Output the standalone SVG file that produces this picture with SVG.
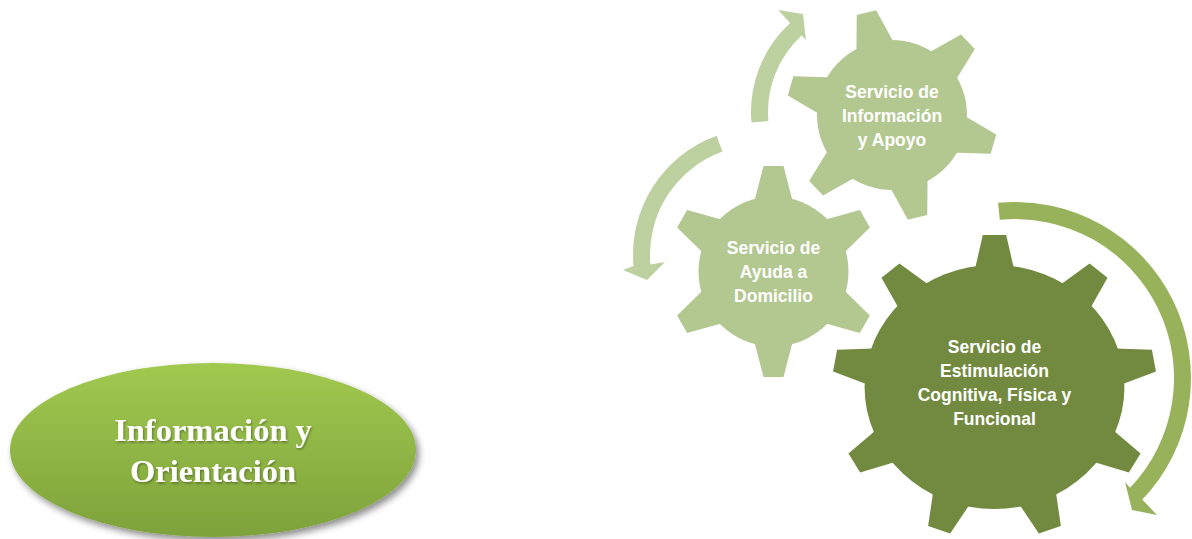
<svg xmlns="http://www.w3.org/2000/svg" xmlns:xlink="http://www.w3.org/1999/xlink" width="1192" height="539" viewBox="0 0 1192 539">
  <style>
    .gl { fill: #b3c790; }
    .gd { fill: #728a3f; }
    .al { fill: #bdd09f; }
    .ad { fill: #97b25a; }
    .gt { font-family: "Liberation Sans", Arial, sans-serif; font-weight: bold; font-size: 17.5px; fill: #ffffff; text-anchor: middle; }
    .et { font-family: "Liberation Serif", "Times New Roman", serif; font-weight: bold; font-size: 32.5px; fill: #ffffff; text-anchor: middle; }
  </style>
  <defs>
    <polygon id="t6" points="-20.5,-65 -10,-105.5 10,-105.5 20.5,-65"/>
    <polygon id="t9" points="-19.6,-112 -11,-152 11,-152 19.6,-112"/>
    <linearGradient id="eg" x1="0" y1="0" x2="0" y2="1">
      <stop offset="0" stop-color="#a1c94f"/>
      <stop offset="1" stop-color="#7ea23b"/>
    </linearGradient>
    <filter id="sh" x="-10%" y="-10%" width="125%" height="135%">
      <feGaussianBlur in="SourceAlpha" stdDeviation="3.5"/>
      <feOffset dx="3" dy="4" result="b"/>
      <feComponentTransfer><feFuncA type="linear" slope="0.45"/></feComponentTransfer>
      <feMerge><feMergeNode/><feMergeNode in="SourceGraphic"/></feMerge>
    </filter>
    <filter id="ts" x="-5%" y="-20%" width="110%" height="140%">
      <feDropShadow dx="1" dy="1.5" stdDeviation="1" flood-color="#000" flood-opacity="0.35"/>
    </filter>
  </defs>

  <g id="connectors">
    <path class="al" d="M 751.5,122.5 A 121 121 0 0 1 790.1,22.9 L 778.1,9.9 L 803,14 L 805.9,40.1 L 801.6,35.4 A 104 104 0 0 0 768.4,121.1 Z"/>
    <path class="al" d="M 716.6,135.7 A 127 127 0 0 0 633.5,266.1 L 623,270 L 647,280 L 665,262 L 650.4,264.6 A 110 110 0 0 1 722.4,151.6 Z"/>
    <path class="ad" d="M 998.1,202.8 A 176 176 0 0 1 1142.3,499.5 L 1157,515 L 1132,510 L 1125,482 L 1130,487.8 A 159 159 0 0 0 999.8,219.7 Z"/>
  </g>

  <g id="node-apoyo">
    <g class="gl" transform="translate(892,115) rotate(-14)">
      <circle r="75"/>
      <use xlink:href="#t6"/>
      <use xlink:href="#t6" transform="rotate(60)"/>
      <use xlink:href="#t6" transform="rotate(120)"/>
      <use xlink:href="#t6" transform="rotate(180)"/>
      <use xlink:href="#t6" transform="rotate(240)"/>
      <use xlink:href="#t6" transform="rotate(300)"/>
    </g>
    <text class="gt" x="892" y="98">Servicio de</text>
    <text class="gt" x="892" y="122">Información</text>
    <text class="gt" x="892" y="146">y Apoyo</text>
  </g>

  <g id="node-ayuda">
    <g class="gl" transform="translate(773.5,271.5)">
      <circle r="75"/>
      <use xlink:href="#t6"/>
      <use xlink:href="#t6" transform="rotate(60)"/>
      <use xlink:href="#t6" transform="rotate(120)"/>
      <use xlink:href="#t6" transform="rotate(180)"/>
      <use xlink:href="#t6" transform="rotate(240)"/>
      <use xlink:href="#t6" transform="rotate(300)"/>
    </g>
    <text class="gt" x="773.5" y="254">Servicio de</text>
    <text class="gt" x="773.5" y="278">Ayuda a</text>
    <text class="gt" x="773.5" y="302">Domicilio</text>
  </g>

  <g id="node-estimulacion">
    <g class="gd" transform="translate(994.5,387) scale(1.065,1)">
      <circle r="122"/>
      <use xlink:href="#t9"/>
      <use xlink:href="#t9" transform="rotate(40)"/>
      <use xlink:href="#t9" transform="rotate(80)"/>
      <use xlink:href="#t9" transform="rotate(120)"/>
      <use xlink:href="#t9" transform="rotate(160)"/>
      <use xlink:href="#t9" transform="rotate(200)"/>
      <use xlink:href="#t9" transform="rotate(240)"/>
      <use xlink:href="#t9" transform="rotate(280)"/>
      <use xlink:href="#t9" transform="rotate(320)"/>
    </g>
    <text class="gt" x="994.5" y="353">Servicio de</text>
    <text class="gt" x="994.5" y="377">Estimulación</text>
    <text class="gt" x="994.5" y="401">Cognitiva, Física y</text>
    <text class="gt" x="994.5" y="425">Funcional</text>
  </g>

  <g id="node-orientacion">
    <ellipse cx="213" cy="450" rx="203" ry="87" fill="url(#eg)" filter="url(#sh)"/>
    <g filter="url(#ts)">
      <text class="et" x="213" y="441">Información y</text>
      <text class="et" x="213" y="482">Orientación</text>
    </g>
  </g>
</svg>
